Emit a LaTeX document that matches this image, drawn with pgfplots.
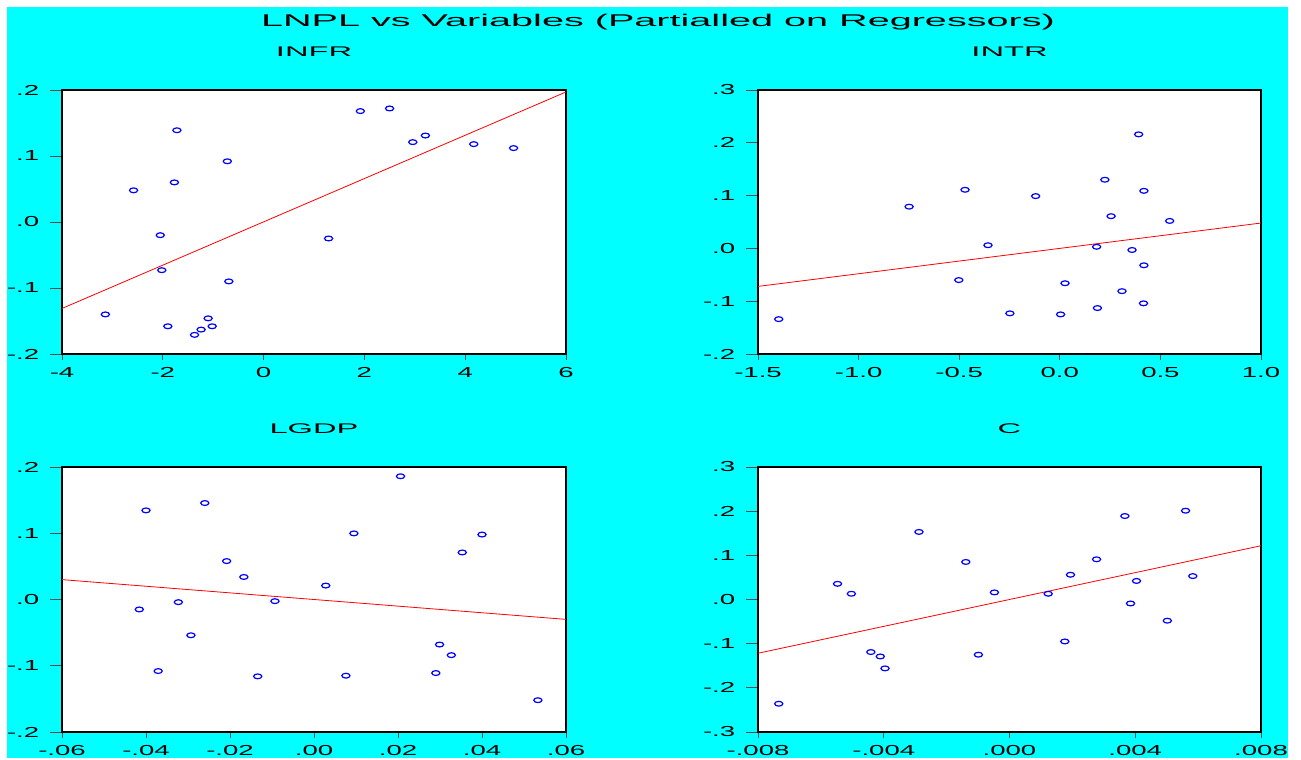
\documentclass[border=0pt]{standalone}
\usepackage{fontspec}
\setmainfont{Liberation Sans}
\usepackage{graphicx}
\usepackage{pgfplots}
\pgfplotsset{compat=1.18}
\definecolor{bgcyan}{RGB}{0,255,255}
\newcommand\sx[1]{\scalebox{1.9}[1]{#1}}
\newcommand\st[1]{\scalebox{2.33}[1]{#1}}
\pgfplotsset{
  panel/.style={
    scale only axis, anchor=south west,
    scaled x ticks=false, scaled y ticks=false,
    axis background/.style={fill=white},
    axis line style={black, line width=1.2pt},
    tick align=outside, xtick pos=left, ytick pos=left,
    xtick style={black!70, line width=0.8pt, /pgfplots/major tick length=6pt},
    ytick style={black!70, line width=0.8pt, /pgfplots/major tick length=12pt},
    minor tick num=0,
    ticklabel style={font=\fontsize{14.5}{17}\selectfont},
    xticklabel style={yshift=-6pt},
    yticklabel style={xshift=-15pt},
    title style={font=\fontsize{14}{17}\selectfont, anchor=base, at={(0.5,1)}, yshift=27pt},
  },
  pts/.style={only marks, mark=o, mark size=2.4pt, mark options={draw=blue, line width=1.2pt, xscale=1.7}},
  fit/.style={red, line width=0.8pt, no marks},
}
\begin{document}
\begin{tikzpicture}
\fill[white] (0pt,0pt) rectangle (1301pt,758pt);
\fill[bgcyan] (7pt,0pt) rectangle (1288pt,751pt);
\node[anchor=base, font=\fontsize{17}{20}\selectfont] at (658pt,731pt) {\st{LNPL vs Variables (Partialled on Regressors)}};

% INFR
\begin{axis}[panel, at={(62pt,404pt)}, width=504pt, height=264pt,
  xmin=-4, xmax=6, ymin=-0.2, ymax=0.2,
  xtick={-4,-2,0,2,4,6}, xticklabels={\sx{-4},\sx{-2},\sx{0},\sx{2},\sx{4},\sx{6}},
  ytick={-0.2,-0.1,0,0.1,0.2}, yticklabels={\sx{-.2},\sx{-.1},\sx{.0},\sx{.1},\sx{.2}},
  title={\st{INFR}}]
\addplot[pts] coordinates {
(-3.14,-0.140) (-2.58,0.048) (-1.72,0.139) (-1.77,0.060) (-2.05,-0.020)
(-2.02,-0.073) (-1.90,-0.158) (-1.37,-0.171) (-1.24,-0.163) (-1.10,-0.146)
(-1.02,-0.158) (-0.72,0.092) (-0.69,-0.090) (1.29,-0.025) (1.92,0.168)
(2.50,0.172) (2.96,0.121) (3.21,0.131) (4.17,0.118) (4.96,0.112)};
\addplot[fit] coordinates {(-4,-0.131) (6,0.197)};
\end{axis}

% INTR
\begin{axis}[panel, at={(758pt,404pt)}, width=503pt, height=264pt,
  xmin=-1.5, xmax=1.0, ymin=-0.2, ymax=0.3,
  xtick={-1.5,-1.0,-0.5,0,0.5,1.0}, xticklabels={\sx{-1.5},\sx{-1.0},\sx{-0.5},\sx{0.0},\sx{0.5},\sx{1.0}},
  ytick={-0.2,-0.1,0,0.1,0.2,0.3}, yticklabels={\sx{-.2},\sx{-.1},\sx{.0},\sx{.1},\sx{.2},\sx{.3}},
  title={\st{INTR}}]
\addplot[pts] coordinates {
(-1.397,-0.134) (-0.749,0.079) (-0.471,0.111) (-0.502,-0.060) (-0.357,0.006)
(-0.248,-0.123) (-0.120,0.099) (0.004,-0.125) (0.026,-0.066) (0.183,0.003)
(0.187,-0.113) (0.224,0.130) (0.255,0.061) (0.309,-0.081) (0.359,-0.003)
(0.392,0.216) (0.418,0.109) (0.418,-0.032) (0.416,-0.104) (0.546,0.052)};
\addplot[fit] coordinates {(-1.5,-0.072) (1.0,0.048)};
\end{axis}

% LGDP
\begin{axis}[panel, at={(62pt,26pt)}, width=504pt, height=265pt,
  xmin=-0.06, xmax=0.06, ymin=-0.2, ymax=0.2,
  xtick={-0.06,-0.04,-0.02,0,0.02,0.04,0.06}, xticklabels={\sx{-.06},\sx{-.04},\sx{-.02},\sx{.00},\sx{.02},\sx{.04},\sx{.06}},
  ytick={-0.2,-0.1,0,0.1,0.2}, yticklabels={\sx{-.2},\sx{-.1},\sx{.0},\sx{.1},\sx{.2}},
  title={\st{LGDP}}]
\addplot[pts] coordinates {
(-0.0416,-0.015) (-0.0400,0.1345) (-0.0371,-0.108) (-0.0323,-0.004) (-0.0293,-0.054)
(-0.0260,0.1456) (-0.0208,0.058) (-0.0167,0.034) (-0.0134,-0.116) (-0.0093,-0.0025)
(0.0028,0.021) (0.0076,-0.115) (0.0095,0.0998) (0.0206,0.186) (0.0290,-0.111)
(0.0299,-0.068) (0.0327,-0.084) (0.0353,0.071) (0.0400,0.098) (0.0533,-0.152)};
\addplot[fit] coordinates {(-0.06,0.030) (0.06,-0.030)};
\end{axis}

% C
\begin{axis}[panel, at={(758pt,26pt)}, width=503pt, height=265pt,
  xmin=-0.008, xmax=0.008, ymin=-0.3, ymax=0.3,
  xtick={-0.008,-0.004,0,0.004,0.008}, xticklabels={\sx{-.008},\sx{-.004},\sx{.000},\sx{.004},\sx{.008}},
  ytick={-0.3,-0.2,-0.1,0,0.1,0.2,0.3}, yticklabels={\sx{-.3},\sx{-.2},\sx{-.1},\sx{.0},\sx{.1},\sx{.2},\sx{.3}},
  title={\st{C}}]
\addplot[pts] coordinates {
(-0.00734,-0.236) (-0.00547,0.0355) (-0.00503,0.013) (-0.00441,-0.119) (-0.00411,-0.129)
(-0.00396,-0.156) (-0.00288,0.153) (-0.00139,0.085) (-0.00099,-0.125) (-0.00048,0.016)
(0.00123,0.013) (0.00176,-0.095) (0.00194,0.056) (0.00277,0.091) (0.00367,0.189)
(0.00385,-0.009) (0.00404,0.042) (0.00502,-0.048) (0.00560,0.201) (0.00583,0.053)};
\addplot[fit] coordinates {(-0.008,-0.1217) (0.008,0.1217)};
\end{axis}
\end{tikzpicture}
\end{document}
